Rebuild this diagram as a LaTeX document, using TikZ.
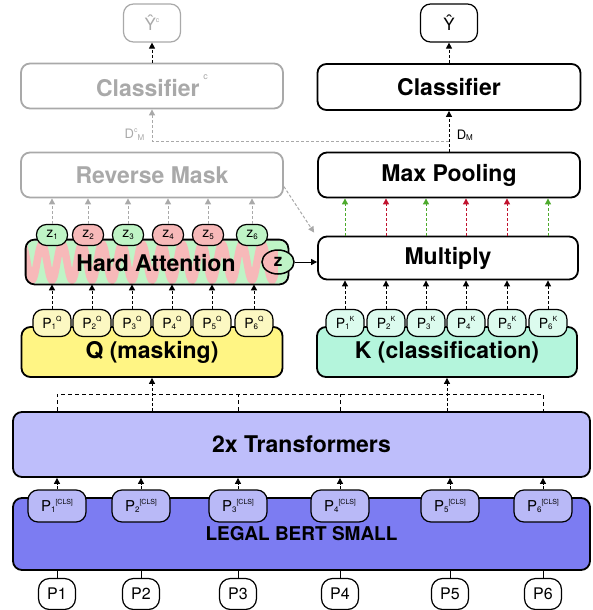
\documentclass[tikz,border=0pt]{standalone}
\usepackage{fontspec}
\setmainfont{TeX Gyre Heros}
\usetikzlibrary{arrows.meta,positioning,shapes.geometric,calc}
\definecolor{qyellow}{HTML}{FFF584}
\definecolor{qlight}{HTML}{FCF8C2}
\definecolor{kmint}{HTML}{B4F5DC}
\definecolor{klight}{HTML}{DCFBEE}
\definecolor{trlav}{HTML}{BEBEFB}
\definecolor{bertblue}{HTML}{7C7CF2}
\definecolor{clsfill}{HTML}{B9B9F7}
\definecolor{zgreen}{HTML}{BFF4C6}
\definecolor{zpink}{HTML}{F7B9B9}
\definecolor{keepgreen}{HTML}{4DAA2C}
\definecolor{dropred}{HTML}{C1122E}
\definecolor{ghost}{HTML}{A9A9A9}
\newcommand{\tinysup}[1]{\raisebox{0.9ex}{\fontsize{7}{7}\selectfont #1}}
\newcommand{\tinysub}[1]{\raisebox{-0.2ex}{\fontsize{8}{8}\selectfont #1}}

\begin{document}
\begin{tikzpicture}[x=1pt, y=-1pt, every node/.style={font=\fontsize{14}{16}\selectfont},
  box/.style={rectangle, rounded corners=9pt, draw=black, line width=1.8pt, inner sep=0pt, font=\fontsize{23}{26}\selectfont\bfseries},
  ghostbox/.style={box, draw=ghost, text=ghost},
  pill/.style={rectangle, rounded corners=8pt, draw=black, line width=1.2pt, inner sep=0pt},
  arrow/.style={-{Triangle[length=6pt,width=6pt]}, line width=1pt, dash pattern=on 3pt off 2pt},
  ghostarrow/.style={arrow, draw=ghost, color=ghost},
  link/.style={line width=1pt, dash pattern=on 4pt off 3pt},
]
\useasboundingbox (0,0) rectangle (592,610);

% Outputs and classifiers
\node[pill, rounded corners=10pt, draw=ghost, text=ghost, minimum width=57pt, minimum height=38pt, font=\fontsize{17}{18}\selectfont] (yhatc) at (152,23) {Ŷ\tinysup{c}};
\node[pill, rounded corners=10pt, minimum width=57pt, minimum height=38pt, font=\fontsize{17}{18}\selectfont] (yhat) at (449,23) {Ŷ};
\node[ghostbox, minimum width=262pt, minimum height=45pt] (clfc) at (152,86) {Classifier\,\raisebox{1.4ex}{\fontsize{9}{9}\selectfont\mdseries c}};
\node[box, minimum width=263pt, minimum height=46pt] (clf) at (449,87) {Classifier};

% Mask / pooling
\node[ghostbox, minimum width=262pt, minimum height=45pt] (rmask) at (152,175) {Reverse Mask};
\node[box, minimum width=262pt, minimum height=45pt] (maxpool) at (449,175) {Max Pooling};

% Hard attention with its wave
\node[box, draw=none, fill=zgreen, minimum width=261pt, minimum height=43pt] (hatt) at (157,262) {};
\begin{scope}
  \clip[rounded corners=9pt] (hatt.north west) rectangle (hatt.south east);
  \draw[zpink, line width=7.5pt] plot[domain=20:275, samples=300] (\x, {262+18*sin(18*(\x-27))});
\end{scope}
\draw[line width=1.8pt, rounded corners=9pt] (hatt.north west) rectangle (hatt.south east);
\node[font=\fontsize{23}{26}\selectfont\bfseries] (hatttext) at (156,263) {Hard Attention};

\foreach \i/\x/\c in {1/52/zgreen,2/88/zpink,3/128/zgreen,4/168/zpink,5/208/zpink,6/252/zgreen}
  \node[pill, rounded corners=10pt, fill=\c, minimum width=31pt, minimum height=21pt] (z\i) at (\x,235) {z\tinysub{\i}};

\node[ellipse, draw, line width=1.5pt, fill=zpink, inner sep=0pt, minimum width=32pt, minimum height=24pt,
  font=\fontsize{17}{18}\selectfont\bfseries,
  path picture={\fill[zgreen] (path picture bounding box.north) rectangle (path picture bounding box.south east);}] (zall) at (278,262) {z};

\node[box, minimum width=260pt, minimum height=43pt] (mult) at (448,258) {Multiply};

% Q and K
\node[box, fill=qyellow, minimum width=261pt, minimum height=50pt] (qmask) at (152,352) {\raisebox{-4pt}{Q (masking)}};
\node[box, fill=kmint, minimum width=260pt, minimum height=50pt] (kcls) at (447,352) {\raisebox{-4pt}{K (classification)}};

\foreach \i/\x in {1/52,2/92,3/132,4/172,5/212,6/254}
  \node[pill, rounded corners=10pt, fill=qlight, minimum width=38pt, minimum height=27pt] (pq\i) at (\x,323) {P\tinysub{\i}\tinysup{Q}};
\foreach \i/\x in {1/345,2/386,3/426,4/466,5/507,6/548}
  \node[pill, rounded corners=10pt, fill=klight, minimum width=38pt, minimum height=27pt] (pk\i) at (\x,323) {P\tinysub{\i}\tinysup{K}};

% Encoder
\node[box, fill=trlav, minimum width=577pt, minimum height=65pt] (trans) at (301.5,444.5) {2x Transformers};
\node[box, fill=bertblue, minimum width=577pt, minimum height=72pt, font=\fontsize{19}{22}\selectfont\bfseries] (bert) at (301.5,534) {\raisebox{-3pt}{LEGAL BERT SMALL}};

\foreach \i/\x in {1/57,2/141,3/238,4/340,5/450,6/543} {
  \node[pill, rounded corners=10pt, fill=clsfill, minimum width=58pt, minimum height=32pt, font=\fontsize{15}{16}\selectfont] (pcls\i) at (\x,506) {P\tinysub{\i}\tinysup{[CLS]}};
  \node[pill, rounded corners=11pt, fill=white, minimum width=37pt, minimum height=31pt, font=\fontsize{16}{18}\selectfont] (pin\i) at (\x,594) {P\i};
}

% Connectors
\foreach \i in {1,...,6} {
  \draw[line width=1pt] (pin\i.north) -- (pin\i.north |- bert.south);
  \draw[arrow] (pcls\i.north) -- (pcls\i.north |- trans.south);
  \draw[arrow] (pq\i.north) -- (pq\i.north |- hatt.south);
  \draw[arrow] (pk\i.north) -- (pk\i.north |- mult.south);
  \draw[ghostarrow] (z\i.north) -- (z\i.north |- rmask.south);
}
\draw[link] (pcls1.north |- trans.north) -- ++(0,-17) -| (pcls6.north |- trans.north);
\draw[link] (pcls3.north |- trans.north) -- ++(0,-17);
\draw[link] (pcls4.north |- trans.north) -- ++(0,-17);
\draw[arrow] (qmask.south |- trans.north) -- (qmask.south);
\draw[arrow] (kcls.south |- trans.north) -- (kcls.south);

\foreach \i/\c in {1/keepgreen,2/dropred,3/keepgreen,4/dropred,5/dropred,6/keepgreen}
  \draw[arrow, \c] (pk\i.north |- mult.north) -- (pk\i.north |- maxpool.south);

\draw[arrow, solid] (zall.east) -- (zall.east -| mult.west);
\draw[ghostarrow] (rmask.-5) -- ([shift={(-3,-3)}]mult.north west);

\draw[arrow] (maxpool.north) -- (clf.south) node[pos=0.4, right=4pt, font=\fontsize{13}{13}\selectfont] (dmlabel) {D\tinysub{M}};
\coordinate (dm) at ($(maxpool.north)!0.26!(clf.south)$);
\draw[ghostarrow] (dm) -| (clfc.south) node[pos=0.6, left=4pt, text=ghost, font=\fontsize{13}{13}\selectfont] (dmclabel) {D\tinysup{c}\tinysub{M}};

\draw[arrow] (clfc.north) -- (yhatc.south);
\draw[arrow] (clf.north) -- (yhat.south);

\end{tikzpicture}
\end{document}
